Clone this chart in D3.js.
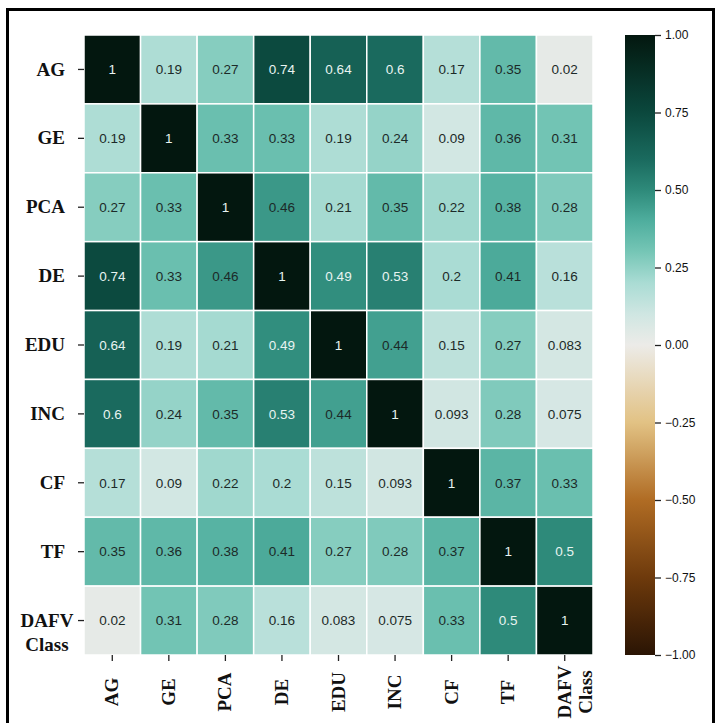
<!DOCTYPE html>
<html>
<head>
<meta charset="utf-8">
<script src="https://cdn.jsdelivr.net/npm/d3@7"></script>
<style>
	body { margin: 0; background: #fff; }
	svg { display: block; }
</style>
</head>
<body>
<svg id="chart" width="718" height="723"></svg>
<script>
// variables, same order on both axes
var labels = ["AG", "GE", "PCA", "DE", "EDU", "INC", "CF", "TF", "DAFV Class"];

// correlation matrix, one array per row
var row_ag   = [1, 0.19, 0.27, 0.74, 0.64, 0.6, 0.17, 0.35, 0.02];
var row_ge   = [0.19, 1, 0.33, 0.33, 0.19, 0.24, 0.09, 0.36, 0.31];
var row_pca  = [0.27, 0.33, 1, 0.46, 0.21, 0.35, 0.22, 0.38, 0.28];
var row_de   = [0.74, 0.33, 0.46, 1, 0.49, 0.53, 0.2, 0.41, 0.16];
var row_edu  = [0.64, 0.19, 0.21, 0.49, 1, 0.44, 0.15, 0.27, 0.083];
var row_inc  = [0.6, 0.24, 0.35, 0.53, 0.44, 1, 0.093, 0.28, 0.075];
var row_cf   = [0.17, 0.09, 0.22, 0.2, 0.15, 0.093, 1, 0.37, 0.33];
var row_tf   = [0.35, 0.36, 0.38, 0.41, 0.27, 0.28, 0.37, 1, 0.5];
var row_dafv = [0.02, 0.31, 0.28, 0.16, 0.083, 0.075, 0.33, 0.5, 1];
var matrix = [row_ag, row_ge, row_pca, row_de, row_edu, row_inc, row_cf, row_tf, row_dafv];

var cbar_ticks = [-1, -0.75, -0.5, -0.25, 0, 0.25, 0.5, 0.75, 1];

// brown-white-teal map, a bit darker than plain BrBG
var cmap_at  = [-1, -0.75, -0.5, -0.25, 0, 0.1, 0.2, 0.3, 0.4, 0.5, 0.6, 0.75, 1];
var cmap_col = ["#2a1404", "#6e3a0c", "#b06c24", "#e2c284", "#ecebe8", "#cfe6e2", "#aadcd4",
	"#76c6b6", "#4fae9e", "#2e8a7a", "#1a6a5e", "#0b483d", "#03170f"];

var svg = d3.select("#chart");

// frame round the whole figure
svg.append("rect")
	.attr("x", 7.5).attr("y", 9.5)
	.attr("width", 706).attr("height", 730)
	.attr("fill", "none")
	.attr("stroke", "#000")
	.attr("stroke-width", 3);

var hm_left = 84, hm_top = 35, hm_right = 593, hm_bottom = 655;

var x = d3.scaleBand().domain(labels).range([hm_left, hm_right]);
var y = d3.scaleBand().domain(labels).range([hm_top, hm_bottom]);

var color = d3.scaleLinear().domain(cmap_at).range(cmap_col).interpolate(d3.interpolateRgb).clamp(true);

var cells = [];
matrix.forEach(function(row, i){
	row.forEach(function(v, j){
		cells.push({row: labels[i], col: labels[j], value: v});
	});
});

svg.append("g").selectAll("rect")
	.data(cells)
	.enter().append("rect")
	.attr("x", function(d){ return x(d.col); })
	.attr("y", function(d){ return y(d.row); })
	.attr("width", x.bandwidth())
	.attr("height", y.bandwidth())
	.attr("fill", function(d){ return color(d.value); })
	.attr("stroke", "#fff")
	.attr("stroke-width", 1.5);

svg.append("g").selectAll("text")
	.data(cells)
	.enter().append("text")
	.attr("x", function(d){ return x(d.col) + x.bandwidth() / 2; })
	.attr("y", function(d){ return y(d.row) + y.bandwidth() / 2; })
	.attr("dy", "0.35em")
	.attr("text-anchor", "middle")
	.attr("font-family", "'Liberation Sans', Arial, sans-serif")
	.attr("font-size", 13.5)
	.attr("fill", function(d){ return d.value > 0.47 ? "#e8f4f1" : "#1c2a28"; })
	.text(function(d){ return String(d.value); });

// y axis: ticks from d3, labels redrawn as serif bold
var yAxis = svg.append("g")
	.attr("transform", "translate(" + hm_left + ",0)")
	.call(d3.axisLeft(y).tickSize(6).tickPadding(12));
yAxis.select(".domain").remove();
yAxis.selectAll(".tick line").attr("stroke", "#222").attr("stroke-width", 1.3);
yAxis.selectAll(".tick text").remove();
yAxis.selectAll(".tick").each(function(d){
	var t = d3.select(this).append("text")
		.attr("fill", "#111")
		.attr("font-family", "'Liberation Serif', 'Times New Roman', serif")
		.attr("font-weight", "bold")
		.attr("font-size", 19);
	var parts = d.split(" ");
	if(parts.length > 1){
		t.attr("text-anchor", "middle");
		t.append("tspan").attr("x", -37).attr("y", 0).attr("dy", "0.32em").text(parts[0]);
		t.append("tspan").attr("x", -37).attr("y", 24).attr("dy", "0.32em").text(parts[1]);
	}
	else {
		t.attr("text-anchor", "end").attr("x", -19).attr("dy", "0.32em").text(d);
	}
});

// x axis, labels rotated and centred under the tick
var xAxis = svg.append("g")
	.attr("transform", "translate(0," + hm_bottom + ")")
	.call(d3.axisBottom(x).tickSize(6));
xAxis.select(".domain").remove();
xAxis.selectAll(".tick line").attr("stroke", "#222").attr("stroke-width", 1.3);
xAxis.selectAll(".tick text").remove();
xAxis.selectAll(".tick").each(function(d){
	var t = d3.select(this).append("text")
		.attr("fill", "#111")
		.attr("font-family", "'Liberation Serif', 'Times New Roman', serif")
		.attr("font-weight", "bold")
		.attr("font-size", 19)
		.attr("text-anchor", "middle")
		.attr("transform", "translate(0,37) rotate(-90)");
	var parts = d.split(" ");
	if(parts.length > 1){
		t.append("tspan").attr("x", 0).attr("y", 0).attr("dy", "0.32em").text(parts[0]);
		t.append("tspan").attr("x", 0).attr("y", 21).attr("dy", "0.32em").text(parts[1]);
	}
	else {
		t.attr("dy", "0.32em").text(d);
	}
});

// colour bar
var cb_x = 625, cb_w = 30;
var cbar = d3.scaleLinear().domain([-1, 1]).range([hm_bottom, hm_top]);

var grad = svg.append("defs").append("linearGradient")
	.attr("id", "cbar_grad")
	.attr("x1", 0).attr("y1", 1).attr("x2", 0).attr("y2", 0);
d3.range(0, 1.0001, 0.025).forEach(function(t){
	grad.append("stop")
		.attr("offset", t)
		.attr("stop-color", color(t * 2 - 1));
});

svg.append("rect")
	.attr("x", cb_x).attr("y", hm_top)
	.attr("width", cb_w).attr("height", hm_bottom - hm_top)
	.attr("fill", "url(#cbar_grad)");

var cAxis = svg.append("g")
	.attr("transform", "translate(" + (cb_x + cb_w) + ",0)")
	.call(d3.axisRight(cbar).tickValues(cbar_ticks).tickFormat(d3.format(".2f")).tickSize(6).tickPadding(4));
cAxis.select(".domain").remove();
cAxis.selectAll(".tick line").attr("stroke", "#222").attr("stroke-width", 1.3);
cAxis.selectAll(".tick text")
	.attr("fill", "#111")
	.attr("font-family", "'Liberation Sans', Arial, sans-serif")
	.attr("font-size", 12);
</script>
</body>
</html>
